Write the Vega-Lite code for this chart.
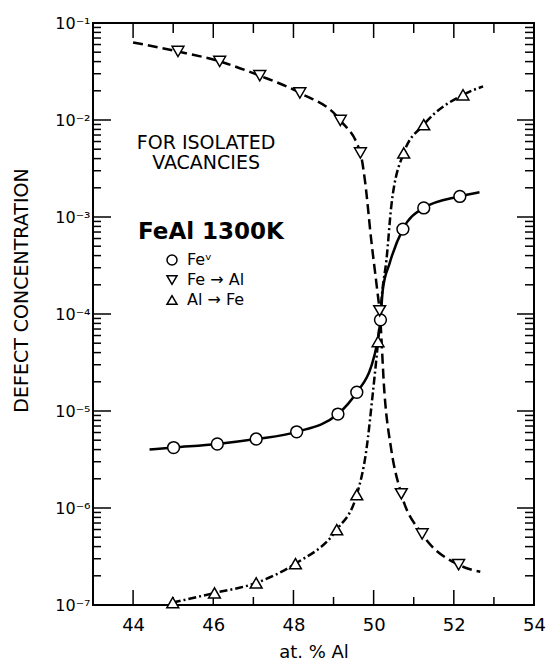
{
  "$schema": "https://vega.github.io/schema/vega-lite/v6.json",
  "width": 441,
  "height": 582,
  "autosize": {"type": "none"},
  "padding": {"left": 93, "top": 23, "right": 14, "bottom": 55},
  "background": "white",
  "config": {
    "view": {"stroke": "black", "strokeWidth": 2},
    "font": "DejaVu Sans",
    "axis": {"grid": false, "domain": false, "labelColor": "black", "titleColor": "black", "labelFont": "DejaVu Sans", "titleFont": "DejaVu Sans", "titleFontWeight": "normal"}
  },
  "datasets": {
    "curves": [
      {"series": "Feᵛ", "x": 44.41, "value": 4.0e-6},
      {"series": "Feᵛ", "x": 45.01, "value": 4.2e-6},
      {"series": "Feᵛ", "x": 46.10, "value": 4.57e-6},
      {"series": "Feᵛ", "x": 47.07, "value": 5.14e-6},
      {"series": "Feᵛ", "x": 48.08, "value": 6.1e-6},
      {"series": "Feᵛ", "x": 49.11, "value": 9.3e-6},
      {"series": "Feᵛ", "x": 49.58, "value": 1.56e-5},
      {"series": "Feᵛ", "x": 49.94, "value": 2.88e-5},
      {"series": "Feᵛ", "x": 50.07, "value": 4.63e-5},
      {"series": "Feᵛ", "x": 50.17, "value": 8.7e-5},
      {"series": "Feᵛ", "x": 50.23, "value": 1.8e-4},
      {"series": "Feᵛ", "x": 50.40, "value": 3.35e-4},
      {"series": "Feᵛ", "x": 50.73, "value": 7.5e-4},
      {"series": "Feᵛ", "x": 51.25, "value": 1.24e-3},
      {"series": "Feᵛ", "x": 52.15, "value": 1.63e-3},
      {"series": "Feᵛ", "x": 52.64, "value": 1.8e-3},
      {"series": "Fe → Al", "x": 44.0, "value": 0.063},
      {"series": "Fe → Al", "x": 45.12, "value": 0.0509},
      {"series": "Fe → Al", "x": 46.16, "value": 0.0402},
      {"series": "Fe → Al", "x": 47.16, "value": 0.0286},
      {"series": "Fe → Al", "x": 48.16, "value": 0.0190},
      {"series": "Fe → Al", "x": 49.17, "value": 0.0099},
      {"series": "Fe → Al", "x": 49.67, "value": 0.00457},
      {"series": "Fe → Al", "x": 49.78, "value": 0.00243},
      {"series": "Fe → Al", "x": 49.94, "value": 5.8e-4},
      {"series": "Fe → Al", "x": 50.11, "value": 1.5e-4},
      {"series": "Fe → Al", "x": 50.15, "value": 1.08e-4},
      {"series": "Fe → Al", "x": 50.27, "value": 1.53e-5},
      {"series": "Fe → Al", "x": 50.44, "value": 4.0e-6},
      {"series": "Fe → Al", "x": 50.69, "value": 1.4e-6},
      {"series": "Fe → Al", "x": 51.21, "value": 5.4e-7},
      {"series": "Fe → Al", "x": 52.12, "value": 2.6e-7},
      {"series": "Fe → Al", "x": 52.66, "value": 2.2e-7},
      {"series": "Al → Fe", "x": 44.99, "value": 1.06e-7},
      {"series": "Al → Fe", "x": 46.03, "value": 1.33e-7},
      {"series": "Al → Fe", "x": 47.07, "value": 1.69e-7},
      {"series": "Al → Fe", "x": 48.05, "value": 2.67e-7},
      {"series": "Al → Fe", "x": 49.08, "value": 5.97e-7},
      {"series": "Al → Fe", "x": 49.58, "value": 1.37e-6},
      {"series": "Al → Fe", "x": 49.82, "value": 4.0e-6},
      {"series": "Al → Fe", "x": 49.98, "value": 1.53e-5},
      {"series": "Al → Fe", "x": 50.11, "value": 5.2e-5},
      {"series": "Al → Fe", "x": 50.22, "value": 1.78e-4},
      {"series": "Al → Fe", "x": 50.32, "value": 3.63e-4},
      {"series": "Al → Fe", "x": 50.44, "value": 1.29e-3},
      {"series": "Al → Fe", "x": 50.75, "value": 4.57e-3},
      {"series": "Al → Fe", "x": 51.25, "value": 8.95e-3},
      {"series": "Al → Fe", "x": 52.23, "value": 0.0182},
      {"series": "Al → Fe", "x": 52.73, "value": 0.0222}
    ],
    "markers": [
      {"series": "Feᵛ", "x": 45.01, "value": 4.2e-6},
      {"series": "Feᵛ", "x": 46.10, "value": 4.57e-6},
      {"series": "Feᵛ", "x": 47.07, "value": 5.14e-6},
      {"series": "Feᵛ", "x": 48.08, "value": 6.1e-6},
      {"series": "Feᵛ", "x": 49.11, "value": 9.3e-6},
      {"series": "Feᵛ", "x": 49.58, "value": 1.56e-5},
      {"series": "Feᵛ", "x": 50.17, "value": 8.7e-5},
      {"series": "Feᵛ", "x": 50.73, "value": 7.5e-4},
      {"series": "Feᵛ", "x": 51.25, "value": 1.24e-3},
      {"series": "Feᵛ", "x": 52.15, "value": 1.63e-3},
      {"series": "Fe → Al", "x": 45.12, "value": 0.0509},
      {"series": "Fe → Al", "x": 46.16, "value": 0.0402},
      {"series": "Fe → Al", "x": 47.16, "value": 0.0286},
      {"series": "Fe → Al", "x": 48.16, "value": 0.0190},
      {"series": "Fe → Al", "x": 49.17, "value": 0.0099},
      {"series": "Fe → Al", "x": 49.67, "value": 0.00457},
      {"series": "Fe → Al", "x": 50.15, "value": 1.08e-4},
      {"series": "Fe → Al", "x": 50.69, "value": 1.4e-6},
      {"series": "Fe → Al", "x": 51.21, "value": 5.4e-7},
      {"series": "Fe → Al", "x": 52.12, "value": 2.6e-7},
      {"series": "Al → Fe", "x": 44.99, "value": 1.06e-7},
      {"series": "Al → Fe", "x": 46.03, "value": 1.33e-7},
      {"series": "Al → Fe", "x": 47.07, "value": 1.69e-7},
      {"series": "Al → Fe", "x": 48.05, "value": 2.67e-7},
      {"series": "Al → Fe", "x": 49.08, "value": 5.97e-7},
      {"series": "Al → Fe", "x": 49.58, "value": 1.37e-6},
      {"series": "Al → Fe", "x": 50.11, "value": 5.2e-5},
      {"series": "Al → Fe", "x": 50.75, "value": 4.57e-3},
      {"series": "Al → Fe", "x": 51.25, "value": 8.95e-3},
      {"series": "Al → Fe", "x": 52.23, "value": 0.0182}
    ],
    "notes": [
      {"label": "FOR ISOLATED", "x": 45.82, "value": 0.00583},
      {"label": "VACANCIES", "x": 45.82, "value": 0.00363}
    ],
    "xticks": [
      {"at": 44, "kind": "major"}, {"at": 45, "kind": "minor"}, {"at": 46, "kind": "major"}, {"at": 47, "kind": "minor"},
      {"at": 48, "kind": "major"}, {"at": 49, "kind": "minor"}, {"at": 50, "kind": "major"}, {"at": 51, "kind": "minor"},
      {"at": 52, "kind": "major"}, {"at": 53, "kind": "minor"}
    ],
    "yticks": [
      {"at": 1e-6, "kind": "major"}, {"at": 1e-5, "kind": "major"}, {"at": 1e-4, "kind": "major"}, {"at": 1e-3, "kind": "major"}, {"at": 1e-2, "kind": "major"},
      {"at": 2e-7, "kind": "minor"}, {"at": 3e-7, "kind": "minor"}, {"at": 4e-7, "kind": "minor"}, {"at": 5e-7, "kind": "minor"}, {"at": 6e-7, "kind": "minor"}, {"at": 7e-7, "kind": "minor"}, {"at": 8e-7, "kind": "minor"}, {"at": 9e-7, "kind": "minor"},
      {"at": 2e-6, "kind": "minor"}, {"at": 3e-6, "kind": "minor"}, {"at": 4e-6, "kind": "minor"}, {"at": 5e-6, "kind": "minor"}, {"at": 6e-6, "kind": "minor"}, {"at": 7e-6, "kind": "minor"}, {"at": 8e-6, "kind": "minor"}, {"at": 9e-6, "kind": "minor"},
      {"at": 2e-5, "kind": "minor"}, {"at": 3e-5, "kind": "minor"}, {"at": 4e-5, "kind": "minor"}, {"at": 5e-5, "kind": "minor"}, {"at": 6e-5, "kind": "minor"}, {"at": 7e-5, "kind": "minor"}, {"at": 8e-5, "kind": "minor"}, {"at": 9e-5, "kind": "minor"},
      {"at": 2e-4, "kind": "minor"}, {"at": 3e-4, "kind": "minor"}, {"at": 4e-4, "kind": "minor"}, {"at": 5e-4, "kind": "minor"}, {"at": 6e-4, "kind": "minor"}, {"at": 7e-4, "kind": "minor"}, {"at": 8e-4, "kind": "minor"}, {"at": 9e-4, "kind": "minor"},
      {"at": 2e-3, "kind": "minor"}, {"at": 3e-3, "kind": "minor"}, {"at": 4e-3, "kind": "minor"}, {"at": 5e-3, "kind": "minor"}, {"at": 6e-3, "kind": "minor"}, {"at": 7e-3, "kind": "minor"}, {"at": 8e-3, "kind": "minor"}, {"at": 9e-3, "kind": "minor"},
      {"at": 2e-2, "kind": "minor"}, {"at": 3e-2, "kind": "minor"}, {"at": 4e-2, "kind": "minor"}, {"at": 5e-2, "kind": "minor"}, {"at": 6e-2, "kind": "minor"}, {"at": 7e-2, "kind": "minor"}, {"at": 8e-2, "kind": "minor"}, {"at": 9e-2, "kind": "minor"}
    ],
    "frame": [
      {"x0": 43, "x1": 54, "y0": 1e-7, "y1": 0.1}
    ]
  },
  "layer": [
    {
      "data": {"name": "curves"},
      "transform": [{"filter": {"field": "series", "equal": "Feᵛ"}}],
      "mark": {"type": "line", "interpolate": "monotone", "strokeWidth": 2.5, "color": "black"},
      "encoding": {
        "x": {"field": "x", "type": "quantitative", "scale": {"domain": [43, 54], "nice": false, "zero": false},
          "axis": {"orient": "bottom", "values": [44, 46, 48, 50, 52, 54], "ticks": false, "labelFontSize": 18, "labelPadding": 25, "labelBaseline": "alphabetic", "labelFlush": false, "labelOverlap": false, "title": "at. % Al", "titleFontSize": 18, "titleX": 220.5, "titleY": 52, "titleBaseline": "alphabetic", "titleAlign": "center"}},
        "y": {"field": "value", "type": "quantitative", "scale": {"type": "log", "domain": [1e-7, 0.1], "nice": false},
          "axis": {"orient": "left", "values": [1e-7, 1e-6, 1e-5, 1e-4, 1e-3, 1e-2, 1e-1], "ticks": false, "labelFontSize": 16, "labelPadding": 3, "labelBaseline": "middle", "labelFlush": false, "labelOverlap": false,
            "labelExpr": "'10' + ['⁻⁷','⁻⁶','⁻⁵','⁻⁴','⁻³','⁻²','⁻¹'][round(log(datum.value)/LN10)+7]",
            "title": "DEFECT CONCENTRATION", "titleFontSize": 19, "titleX": -66, "titleY": 267, "titleAngle": 270, "titleBaseline": "alphabetic", "titleAlign": "center"}}
      }
    },
    {
      "data": {"name": "curves"},
      "transform": [{"filter": {"field": "series", "equal": "Fe → Al"}}],
      "mark": {"type": "line", "interpolate": "monotone", "strokeWidth": 2.5, "color": "black", "strokeDash": [10, 5]},
      "encoding": {
        "x": {"field": "x", "type": "quantitative"},
        "y": {"field": "value", "type": "quantitative"}
      }
    },
    {
      "data": {"name": "curves"},
      "transform": [{"filter": {"field": "series", "equal": "Al → Fe"}}],
      "mark": {"type": "line", "interpolate": "monotone", "strokeWidth": 2.5, "color": "black", "strokeDash": [8, 3, 2, 3]},
      "encoding": {
        "x": {"field": "x", "type": "quantitative"},
        "y": {"field": "value", "type": "quantitative"}
      }
    },
    {
      "data": {"name": "frame"},
      "mark": {"type": "rect", "filled": false, "fill": null, "stroke": "black", "strokeWidth": 2, "opacity": 1},
      "encoding": {
        "x": {"field": "x0", "type": "quantitative"},
        "x2": {"field": "x1"},
        "y": {"field": "y0", "type": "quantitative"},
        "y2": {"field": "y1"}
      }
    },
    {
      "data": {"name": "xticks"},
      "transform": [{"filter": {"field": "kind", "equal": "major"}}],
      "mark": {"type": "point", "shape": "M0,0L0,-2", "size": 225, "strokeWidth": 1.5, "color": "black", "filled": false, "opacity": 1},
      "encoding": {
        "x": {"field": "at", "type": "quantitative"},
        "y": {"datum": 1e-7, "type": "quantitative"}
      }
    },
    {
      "data": {"name": "xticks"},
      "transform": [{"filter": {"field": "kind", "equal": "minor"}}],
      "mark": {"type": "point", "shape": "M0,0L0,-2", "size": 64, "strokeWidth": 1.5, "color": "black", "filled": false, "opacity": 1},
      "encoding": {
        "x": {"field": "at", "type": "quantitative"},
        "y": {"datum": 1e-7, "type": "quantitative"}
      }
    },
    {
      "data": {"name": "xticks"},
      "transform": [{"filter": {"field": "kind", "equal": "major"}}],
      "mark": {"type": "point", "shape": "M0,0L0,2", "size": 225, "strokeWidth": 1.5, "color": "black", "filled": false, "opacity": 1},
      "encoding": {
        "x": {"field": "at", "type": "quantitative"},
        "y": {"datum": 0.1, "type": "quantitative"}
      }
    },
    {
      "data": {"name": "xticks"},
      "transform": [{"filter": {"field": "kind", "equal": "minor"}}],
      "mark": {"type": "point", "shape": "M0,0L0,2", "size": 100, "strokeWidth": 1.5, "color": "black", "filled": false, "opacity": 1},
      "encoding": {
        "x": {"field": "at", "type": "quantitative"},
        "y": {"datum": 0.1, "type": "quantitative"}
      }
    },
    {
      "data": {"name": "yticks"},
      "transform": [{"filter": {"field": "kind", "equal": "major"}}],
      "mark": {"type": "point", "shape": "M0,0L2,0", "size": 324, "strokeWidth": 1.5, "color": "black", "filled": false, "opacity": 1},
      "encoding": {
        "x": {"datum": 43, "type": "quantitative"},
        "y": {"field": "at", "type": "quantitative"}
      }
    },
    {
      "data": {"name": "yticks"},
      "transform": [{"filter": {"field": "kind", "equal": "minor"}}],
      "mark": {"type": "point", "shape": "M0,0L2,0", "size": 64, "strokeWidth": 1.5, "color": "black", "filled": false, "opacity": 1},
      "encoding": {
        "x": {"datum": 43, "type": "quantitative"},
        "y": {"field": "at", "type": "quantitative"}
      }
    },
    {
      "data": {"name": "yticks"},
      "transform": [{"filter": {"field": "kind", "equal": "major"}}],
      "mark": {"type": "point", "shape": "M0,0L-2,0", "size": 289, "strokeWidth": 1.5, "color": "black", "filled": false, "opacity": 1},
      "encoding": {
        "x": {"datum": 54, "type": "quantitative"},
        "y": {"field": "at", "type": "quantitative"}
      }
    },
    {
      "data": {"name": "yticks"},
      "transform": [{"filter": {"field": "kind", "equal": "minor"}}],
      "mark": {"type": "point", "shape": "M0,0L-2,0", "size": 81, "strokeWidth": 1.5, "color": "black", "filled": false, "opacity": 1},
      "encoding": {
        "x": {"datum": 54, "type": "quantitative"},
        "y": {"field": "at", "type": "quantitative"}
      }
    },
    {
      "data": {"name": "markers"},
      "mark": {"type": "point", "filled": false, "fill": "white", "stroke": "black", "strokeWidth": 1.5, "size": 140, "opacity": 1, "clip": false},
      "encoding": {
        "x": {"field": "x", "type": "quantitative"},
        "y": {"field": "value", "type": "quantitative"},
        "shape": {"field": "series", "type": "nominal", "scale": {"domain": ["Feᵛ", "Fe → Al", "Al → Fe"], "range": ["circle", "triangle-down", "triangle-up"]},
          "legend": {"orient": "none", "legendX": 45, "legendY": 198, "title": "FeAl 1300K", "titleFontSize": 23, "titleFontWeight": "bold", "titleFont": "DejaVu Sans", "titleColor": "black", "titlePadding": 8, "labelFontSize": 16, "labelFont": "DejaVu Sans", "labelColor": "black", "symbolSize": 100, "symbolStrokeWidth": 1.5, "symbolOffset": 26, "labelOffset": 7, "rowPadding": 4, "padding": 0}}
      }
    },
    {
      "data": {"name": "notes"},
      "mark": {"type": "text", "fontSize": 19, "font": "DejaVu Sans", "align": "center", "baseline": "middle", "color": "black"},
      "encoding": {
        "x": {"field": "x", "type": "quantitative"},
        "y": {"field": "value", "type": "quantitative"},
        "text": {"field": "label"}
      }
    }
  ]
}
